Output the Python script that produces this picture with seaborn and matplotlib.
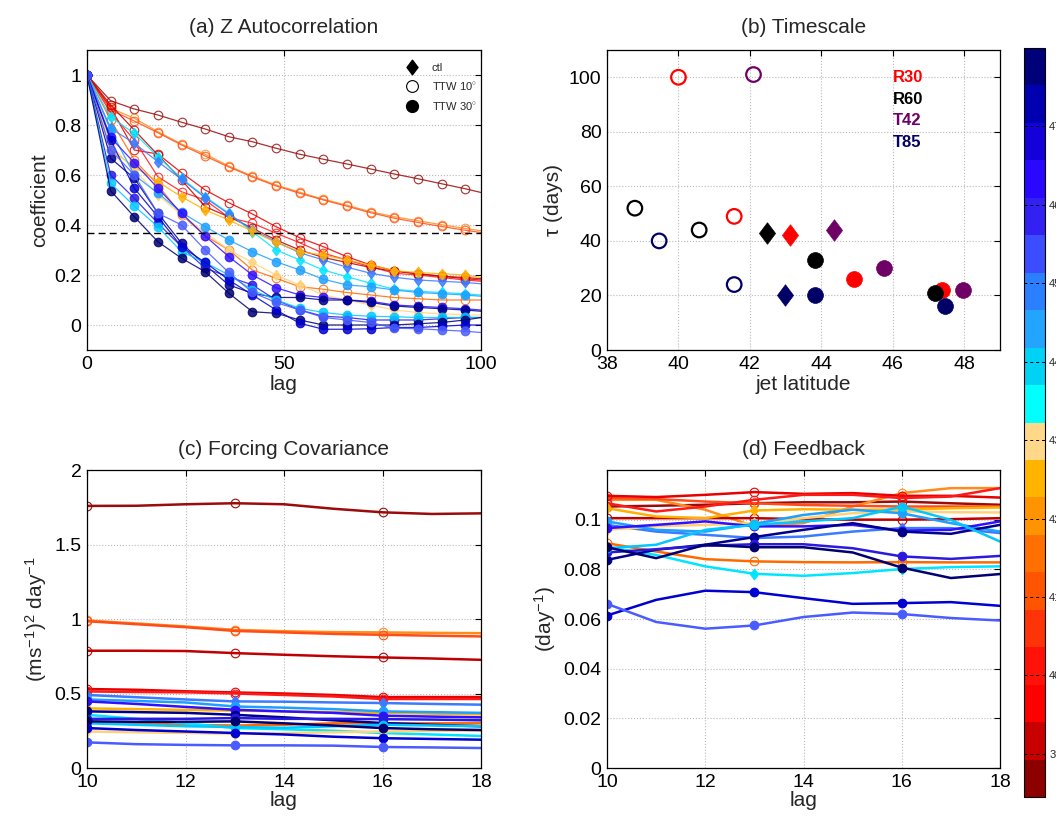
import matplotlib
matplotlib.use('Agg')
import matplotlib as mpl
import matplotlib.pyplot as plt
from matplotlib.lines import Line2D
from matplotlib.path import Path
from matplotlib.colors import ListedColormap, Normalize
from matplotlib.ticker import FormatStrFormatter
import seaborn as sns

# ---------------- data ----------------
lags_a = [0, 6, 12, 18, 24, 30, 36, 42, 48, 54, 60, 66, 72, 78, 84, 90, 96, 100]
lags_cd = [10, 11, 12, 13, 14, 15, 16, 17, 18]

# marker type per run: open = TTW 10, diamond = ctl, filled = TTW 30
series_kind = ['open'] * 7 + ['diamond'] * 4 + ['filled'] * 8
series_color = ['#9a0c0c', '#ff8c1a', '#ff4d1a', '#e60000', '#ff1a1a', '#c00000', '#ff6a00',
                '#00e5ff', '#3a7bff', '#ffb000', '#ffd27a',
                '#1ea0ff', '#3010ff', '#00008c', '#2a1ae0', '#00c8ff', '#000070', '#0000d0', '#4a5cff']

# (a) autocorrelation, one row per run
acf = [
    [1, .897, .864, .84, .811, .784, .753, .733, .707, .683, .663, .644, .624, .604, .585, .565, .545, .53],
    [1, .867, .827, .773, .724, .683, .636, .596, .56, .531, .503, .479, .453, .433, .417, .401, .386, .377],
    [1, .86, .816, .769, .72, .676, .632, .592, .556, .527, .5, .475, .449, .427, .41, .394, .379, .37],
    [1, .87, .70, .684, .609, .54, .489, .444, .393, .349, .313, .273, .24, .217, .205, .195, .185, .18],
    [1, .85, .74, .593, .533, .5, .43, .407, .367, .329, .287, .26, .233, .207, .2, .19, .18, .175],
    [1, .88, .78, .68, .58, .473, .433, .387, .34, .3, .27, .25, .23, .215, .205, .195, .19, .185],
    [1, .82, .66, .56, .44, .357, .3, .22, .187, .153, .143, .13, .12, .11, .105, .1, .1, .1],
    [1, .831, .767, .673, .587, .513, .447, .373, .3, .26, .22, .193, .167, .143, .135, .13, .125, .12],
    [1, .787, .727, .653, .583, .509, .444, .38, .333, .289, .26, .231, .207, .191, .18, .175, .17, .165],
    [1, .7, .633, .573, .513, .46, .42, .375, .33, .293, .28, .26, .24, .217, .21, .205, .2, .19],
    [1, .72, .62, .52, .44, .37, .3, .25, .2, .16, .12, .1, .08, .06, .05, .045, .04, .04],
    [1, .78, .6, .527, .45, .393, .34, .293, .253, .22, .183, .16, .153, .14, .13, .125, .12, .115],
    [1, .75, .649, .547, .447, .356, .273, .2, .149, .12, .11, .1, .095, .08, .075, .07, .065, .06],
    [1, .667, .587, .447, .327, .24, .16, .127, .11, .11, .1, .1, .09, .076, .07, .065, .06, .055],
    [1, .6, .507, .407, .313, .227, .193, .16, .1, .06, .035, .03, .02, .02, .02, .025, .03, .03],
    [1, .567, .476, .393, .293, .25, .2, .14, .1, .067, .05, .04, .035, .033, .03, .03, .03, .03],
    [1, .537, .433, .333, .267, .213, .127, .053, .047, .02, 0, 0, 0, 0, .005, .01, .02, .03],
    [1, .74, .547, .433, .313, .25, .18, .12, .06, .007, -.017, -.017, -.015, -.01, -.01, -.005, 0, 0],
    [1, .7, .6, .447, .4, .3, .21, .13, .09, .06, .03, .02, .01, -.013, -.015, -.02, -.025, -.03],
]

# (c) forcing covariance
forcing = [
    [1.759, 1.76, 1.77, 1.777, 1.77, 1.74, 1.716, 1.705, 1.709],
    [.99, .97, .95, .927, .918, .912, .91, .907, .905],
    [.985, .965, .945, .92, .91, .9, .894, .888, .883],
    [.53, .525, .515, .507, .5, .49, .476, .476, .476],
    [.514, .51, .508, .5, .49, .48, .463, .463, .463],
    [.787, .787, .785, .771, .76, .75, .742, .735, .726],
    [.31, .3, .29, .285, .29, .3, .3, .3, .3],
    [.357, .33, .3, .268, .26, .25, .235, .225, .215],
    [.49, .475, .46, .447, .445, .44, .436, .43, .425],
    [.4, .395, .39, .385, .38, .375, .37, .365, .36],
    [.245, .24, .235, .23, .235, .24, .245, .25, .25],
    [.46, .45, .44, .413, .405, .395, .38, .375, .37],
    [.447, .43, .41, .391, .38, .37, .351, .345, .34],
    [.38, .375, .37, .357, .34, .32, .302, .29, .28],
    [.33, .33, .33, .335, .33, .33, .328, .325, .32],
    [.3, .29, .28, .275, .27, .28, .29, .285, .28],
    [.313, .31, .31, .313, .3, .285, .268, .26, .255],
    [.268, .255, .245, .235, .225, .21, .2, .195, .19],
    [.172, .16, .155, .152, .152, .15, .141, .138, .134],
]

# (d) feedback
feedback = [
    [.1053, .1056, .106, .1066, .107, .107, .1073, .1066, .106],
    [.108, .108, .104, .0973, .0986, .1053, .1107, .1127, .1127],
    [.1087, .1083, .1073, .1066, .1059, .1056, .1053, .1053, .1053],
    [.1096, .1091, .11, .1111, .1104, .1107, .1096, .1096, .1089],
    [.1066, .1033, .1053, .108, .11, .11, .1087, .1093, .1127],
    [.1006, .1006, .1006, .1006, .1002, .1, .1, .1002, .1006],
    [.0905, .0872, .0841, .0832, .0829, .0828, .0829, .0828, .0828],
    [.0889, .0858, .0812, .0782, .0774, .0785, .0801, .0809, .0812],
    [.0979, .0952, .0939, .0926, .0932, .0952, .0966, .0966, .0946],
    [.1046, .1013, .1006, .1037, .1042, .104, .104, .1046, .1049],
    [.0959, .0973, .0979, .0986, .1006, .1026, .1033, .103, .1029],
    [.0993, .0959, .0952, .0983, .1019, .104, .1026, .0986, .0952],
    [.0966, .0979, .0993, .0973, .0973, .0979, .0956, .0959, .0993],
    [.0838, .0879, .0899, .093, .0959, .0986, .0952, .0943, .0979],
    [.0868, .0881, .0895, .0901, .0901, .0885, .0852, .0842, .0854],
    [.0885, .0899, .0959, .0979, .0993, .1006, .1053, .0999, .0912],
    [.0889, .0845, .0899, .0889, .0889, .0868, .0807, .0765, .0781],
    [.0614, .0677, .0714, .0708, .0684, .0661, .0664, .0668, .0653],
    [.0661, .0588, .0561, .0574, .0608, .0626, .062, .0604, .0594],
]

# (b) timescale vs jet latitude
b_model = ['R30', 'R30', 'R30', 'R30', 'R30',
           'R60', 'R60', 'R60', 'R60', 'R60',
           'T42', 'T42', 'T42', 'T42',
           'T85', 'T85', 'T85', 'T85', 'T85']
b_kind = ['open', 'open', 'diamond', 'filled', 'filled',
          'open', 'open', 'diamond', 'filled', 'filled',
          'open', 'diamond', 'filled', 'filled',
          'open', 'open', 'diamond', 'filled', 'filled']
b_lat = [40.0, 41.56, 43.13, 44.91, 47.37,
         38.78, 40.58, 42.48, 43.83, 47.18,
         42.1, 44.34, 45.75, 47.97,
         39.46, 41.56, 42.98, 43.83, 47.46]
b_tau = [100, 49, 42, 26, 22,
         52, 44, 43, 33, 21,
         101, 44, 30, 22,
         40, 24, 20, 20, 16]
model_names = ['R30', 'R60', 'T42', 'T85']
model_colors = ['#ff0000', '#000000', '#6e0066', '#000066']

# colour bar (jet latitude)
cbar_colors = ['#8c0000', '#c80000', '#ff0000', '#ff1208', '#ff3308', '#ff5500', '#ff7000',
               '#ff9400', '#ffb400', '#ffd88a', '#00ffff', '#00d2f5', '#22a4ff', '#2a80ff',
               '#3c4cff', '#3320f2', '#2a08ff', '#1400d8', '#0000b0', '#000078']
cbar_ticks = [39, 40, 41, 42, 43, 44, 45, 46, 47]

# ---------------- style ----------------
sns.set_style('white')
plt.rcParams['font.family'] = ['Liberation Sans', 'DejaVu Sans']
plt.rcParams['mathtext.fontset'] = 'custom'
plt.rcParams['mathtext.rm'] = 'Liberation Sans'
plt.rcParams['mathtext.it'] = 'Liberation Sans:italic'
plt.rcParams['axes.edgecolor'] = 'black'
plt.rcParams['axes.linewidth'] = 0.9

# MATLAB-like diamond (a little wider than matplotlib's thin diamond)
DIAMOND = Path([(0, 1), (0.75, 0), (0, -1), (-0.75, 0), (0, 1)],
               [Path.MOVETO, Path.LINETO, Path.LINETO, Path.LINETO, Path.CLOSEPOLY])

fig = plt.figure(figsize=(10.56, 8.22), dpi=100)
W, H = 1056, 822


def make_axes(left, top, right, bottom):
    return fig.add_axes([left / W, 1 - bottom / H, (right - left) / W, (bottom - top) / H])


ax_a = make_axes(87, 50, 481, 350)
ax_b = make_axes(607, 50, 1000, 350)
ax_c = make_axes(87, 470, 481, 768)
ax_d = make_axes(607, 470, 1000, 768)


def style_axes(ax):
    ax.grid(True, ls=':', color='0.72', lw=0.8)
    ax.tick_params(direction='in', top=True, right=True, length=4, width=0.8,
                   labelsize=14, colors='black', pad=4)
    ax.xaxis.set_major_formatter(FormatStrFormatter('%g'))
    ax.yaxis.set_major_formatter(FormatStrFormatter('%g'))
    for s in ax.spines.values():
        s.set_visible(True)
        s.set_color('black')


def draw(ax, x, y, color, kind, every, lw, ms, alpha=1.0):
    marker = DIAMOND if kind == 'diamond' else 'o'
    mfc = 'none' if kind == 'open' else color
    size = ms + 1.5 if kind == 'diamond' else ms
    sns.lineplot(x=x, y=y, ax=ax, color=color, lw=lw, alpha=alpha, marker=marker,
                 markevery=every, ms=size, mfc=mfc, mec=color, mew=0.8)


# (a)
for row, c, k in zip(acf, series_color, series_kind):
    draw(ax_a, lags_a, row, c, k, list(range(len(lags_a) - 1)), 0.9, 6.2, alpha=0.85)
ax_a.axhline(0.368, color='black', ls=(0, (5, 3)), lw=1.0)
ax_a.set_xlim(0, 100)
ax_a.set_ylim(-0.1, 1.1)
ax_a.set_xticks([0, 50, 100])
ax_a.set_yticks([0, 0.2, 0.4, 0.6, 0.8, 1])
style_axes(ax_a)
ax_a.set_xlabel('lag', fontsize=15, labelpad=2)
ax_a.set_ylabel('coefficient', fontsize=15)
ax_a.set_title('(a) Z Autocorrelation', fontsize=15, pad=12)
handles = [Line2D([], [], ls='', marker=DIAMOND, ms=10.5, color='k'),
           Line2D([], [], ls='', marker='o', ms=8.5, mfc='none', mec='k', mew=0.8),
           Line2D([], [], ls='', marker='o', ms=8.5, color='k')]
ax_a.legend(handles, ['ctl', r'TTW 10$^{\circ}$', r'TTW 30$^{\circ}$'], loc='upper left',
            bbox_to_anchor=(0.79, 0.975), frameon=False, fontsize=8, borderpad=0,
            handlelength=1.5, handletextpad=1.0, labelspacing=0.65)

# (b)
for name, col in zip(model_names, model_colors):
    for kind in ['open', 'diamond', 'filled']:
        xs = [la for la, m, k in zip(b_lat, b_model, b_kind) if m == name and k == kind]
        ys = [t for t, m, k in zip(b_tau, b_model, b_kind) if m == name and k == kind]
        if not xs:
            continue
        if kind == 'open':
            sns.scatterplot(x=xs, y=ys, ax=ax_b, marker='o', s=110, facecolor='none',
                            edgecolor=col, linewidth=1.6, zorder=3)
        elif kind == 'diamond':
            sns.scatterplot(x=xs, y=ys, ax=ax_b, marker=DIAMOND, s=240, color=col,
                            edgecolor=col, linewidth=0.5, zorder=3)
        else:
            sns.scatterplot(x=xs, y=ys, ax=ax_b, marker='o', s=130, color=col,
                            edgecolor=col, linewidth=0.5, zorder=3)
for i, (name, col) in enumerate(zip(model_names, model_colors)):
    ax_b.text(46.0, 100 - 8 * i, name, color=col, fontsize=12, fontweight='bold', va='center')
ax_b.set_xlim(38, 49)
ax_b.set_ylim(0, 110)
ax_b.set_xticks([38, 40, 42, 44, 46, 48])
ax_b.set_yticks([0, 20, 40, 60, 80, 100])
style_axes(ax_b)
ax_b.set_xlabel('jet latitude', fontsize=15, labelpad=2)
ax_b.set_ylabel('τ (days)', fontsize=15)
ax_b.set_title('(b) Timescale', fontsize=15, pad=12)

# (c)
for row, c, k in zip(forcing, series_color, series_kind):
    draw(ax_c, lags_cd, row, c, k, [0, 3, 6], 1.8, 6.2)
ax_c.set_xlim(10, 18)
ax_c.set_ylim(0, 2)
ax_c.set_xticks([10, 12, 14, 16, 18])
ax_c.set_yticks([0, 0.5, 1, 1.5, 2])
style_axes(ax_c)
ax_c.set_xlabel('lag', fontsize=15, labelpad=0)
ax_c.set_ylabel(r'(ms$^{-1}$)$^2$ day$^{-1}$', fontsize=15)
ax_c.set_title('(c) Forcing Covariance', fontsize=15, pad=11)

# (d)
for row, c, k in zip(feedback, series_color, series_kind):
    draw(ax_d, lags_cd, row, c, k, [0, 3, 6], 1.8, 6.2)
ax_d.set_xlim(10, 18)
ax_d.set_ylim(0, 0.12)
ax_d.set_xticks([10, 12, 14, 16, 18])
ax_d.set_yticks([0, 0.02, 0.04, 0.06, 0.08, 0.1])
style_axes(ax_d)
ax_d.set_xlabel('lag', fontsize=15, labelpad=0)
ax_d.set_ylabel(r'(day$^{-1}$)', fontsize=15)
ax_d.set_title('(d) Feedback', fontsize=15, pad=11)

# colour bar
cax = make_axes(1024, 48, 1045, 797)
sm = mpl.cm.ScalarMappable(norm=Normalize(38.45, 48.0), cmap=ListedColormap(cbar_colors))
cb = fig.colorbar(sm, cax=cax, ticks=cbar_ticks)
cb.ax.tick_params(length=0, labelsize=8, pad=3)
cb.outline.set_linewidth(0.8)
for t in cbar_ticks:
    cax.axhline(t, color='black', ls=(0, (3, 3)), lw=0.7)

fig.savefig('out.png', dpi=100)
